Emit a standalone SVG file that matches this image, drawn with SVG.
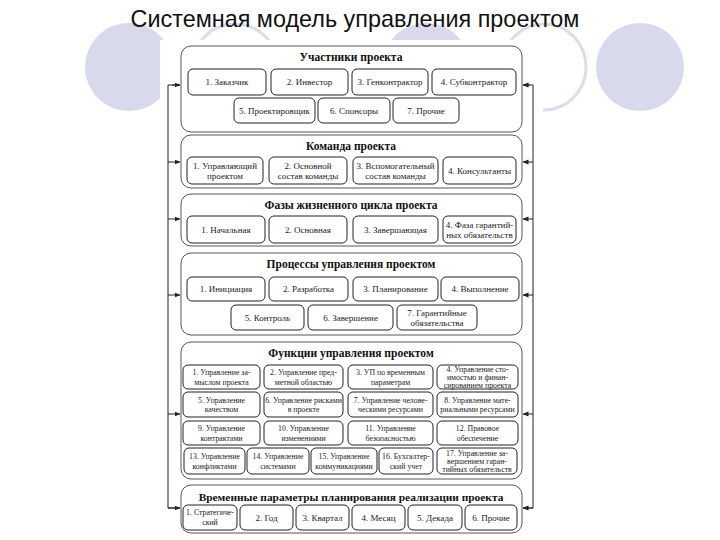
<svg xmlns="http://www.w3.org/2000/svg" width="720" height="540" viewBox="0 0 720 540">
<defs>
<marker id="ah" markerWidth="6" markerHeight="6" refX="5.5" refY="3" orient="auto" markerUnits="userSpaceOnUse">
<path d="M0,0.5 L6,3 L0,5.5 z" fill="#222"/>
</marker>
<style>
.bgc{fill:#d9d9ec}
.bgo{fill:none;stroke:#dcdcec;stroke-width:3}
.title{font-family:"Liberation Sans",Arial,sans-serif;font-size:23.4px;fill:#111;text-anchor:middle}
.grp{fill:#fff;stroke:#444;stroke-width:0.9}
.box{fill:#fff;stroke:#222;stroke-width:1}
.gt{font-family:"Liberation Serif","Times New Roman",serif;font-weight:bold;font-size:11.5px;fill:#111;text-anchor:middle}
.t{font-family:"Liberation Serif","Times New Roman",serif;font-size:9px;fill:#222;text-anchor:middle}
.s{font-family:"Liberation Serif","Times New Roman",serif;font-size:7.8px;fill:#222;text-anchor:middle}
.con{fill:none;stroke:#222;stroke-width:1}
</style>
</defs>
<rect width="720" height="540" fill="#fff"/>
<g id="background">
<ellipse class="bgc" cx="129" cy="67" rx="44" ry="44"/>
<ellipse class="bgo" cx="235" cy="67" rx="43" ry="43"/>
<ellipse class="bgc" cx="426" cy="67" rx="44" ry="44"/>
<ellipse class="bgo" cx="544" cy="67" rx="42" ry="43"/>
<ellipse class="bgc" cx="640" cy="67" rx="44" ry="44"/>
<rect x="160" y="40" width="383" height="500" fill="#fff"/>
</g>
<text class="title" x="355" y="27">Системная модель управления проектом</text>

<g id="connectors">
<path class="con" d="M180,85 H168 V508 H180"/>
<path class="con" d="M172,85 H180" marker-end="url(#ah)"/>
<path class="con" d="M168,162 H180" marker-end="url(#ah)"/>
<path class="con" d="M168,219 H180" marker-end="url(#ah)"/>
<path class="con" d="M168,295 H180" marker-end="url(#ah)"/>
<path class="con" d="M168,414 H180" marker-end="url(#ah)"/>
<path class="con" d="M168,508 H180" marker-end="url(#ah)"/>
<path class="con" d="M523,85 H533 V508 H523"/>
<path class="con" d="M530,85 H523" marker-end="url(#ah)"/>
<path class="con" d="M533,162 H523" marker-end="url(#ah)"/>
<path class="con" d="M533,219 H523" marker-end="url(#ah)"/>
<path class="con" d="M533,295 H523" marker-end="url(#ah)"/>
<path class="con" d="M533,414 H523" marker-end="url(#ah)"/>
<path class="con" d="M533,508 H523" marker-end="url(#ah)"/>
</g>

<g id="participants">
<rect class="grp" x="181" y="46" width="341" height="86" rx="10"/>
<text class="gt" x="351" y="61">Участники проекта</text>
<g id="p1"><rect class="box" x="188" y="69" width="78" height="26" rx="5"/><text class="t" x="227" y="85.3">1. Заказчик</text></g>
<g id="p2"><rect class="box" x="271" y="69" width="77" height="26" rx="5"/><text class="t" x="309.5" y="85.3">2. Инвестор</text></g>
<g id="p3"><rect class="box" x="352" y="69" width="76" height="26" rx="5"/><text class="t" x="390" y="85.3">3. Генконтрактор</text></g>
<g id="p4"><rect class="box" x="432" y="69" width="84" height="26" rx="5"/><text class="t" x="474" y="85.3">4. Субконтрактор</text></g>
<g id="p5"><rect class="box" x="234" y="98" width="81" height="25" rx="5"/><text class="t" x="274.5" y="113.8">5. Проектировщик</text></g>
<g id="p6"><rect class="box" x="318" y="98" width="72" height="25" rx="5"/><text class="t" x="354" y="113.8">6. Спонсоры</text></g>
<g id="p7"><rect class="box" x="393" y="98" width="66" height="25" rx="5"/><text class="t" x="426" y="113.8">7. Прочие</text></g>
</g>

<g id="team">
<rect class="grp" x="181" y="135" width="341" height="53" rx="10"/>
<text class="gt" x="351" y="150">Команда проекта</text>
<g id="t1"><rect class="box" x="187" y="157" width="76" height="27" rx="5"/><text class="t" x="225" y="168.7">1. Управляющий<tspan x="225" dy="10">проектом</tspan></text></g>
<g id="t2"><rect class="box" x="269" y="157" width="78" height="27" rx="5"/><text class="t" x="308" y="168.7">2. Основной<tspan x="308" dy="10">состав команды</tspan></text></g>
<g id="t3"><rect class="box" x="353" y="157" width="85" height="27" rx="5"/><text class="t" x="395.5" y="168.7">3. Вспомогательный<tspan x="395.5" dy="10">состав команды</tspan></text></g>
<g id="t4"><rect class="box" x="443" y="157" width="73" height="27" rx="5"/><text class="t" x="479.5" y="173.8">4. Консультанты</text></g>
</g>

<g id="phases">
<rect class="grp" x="181" y="194" width="341" height="52" rx="10"/>
<text class="gt" x="351" y="209">Фазы жизненного цикла проекта</text>
<g id="f1"><rect class="box" x="187" y="216" width="78" height="27" rx="5"/><text class="t" x="226" y="232.8">1. Начальная</text></g>
<g id="f2"><rect class="box" x="269" y="216" width="78" height="27" rx="5"/><text class="t" x="308" y="232.8">2. Основная</text></g>
<g id="f3"><rect class="box" x="353" y="216" width="85" height="27" rx="5"/><text class="t" x="395.5" y="232.8">3. Завершающая</text></g>
<g id="f4"><rect class="box" x="443" y="216" width="73" height="27" rx="5"/><text class="t" x="479.5" y="227.7">4. Фаза гарантий-<tspan x="479.5" dy="10">ных обязательств</tspan></text></g>
</g>

<g id="processes">
<rect class="grp" x="181" y="253" width="341" height="82" rx="10"/>
<text class="gt" x="351" y="268">Процессы управления проектом</text>
<g id="r1"><rect class="box" x="187" y="277" width="78" height="24" rx="5"/><text class="t" x="226" y="292.3">1. Инициация</text></g>
<g id="r2"><rect class="box" x="269" y="277" width="79" height="24" rx="5"/><text class="t" x="308.5" y="292.3">2. Разработка</text></g>
<g id="r3"><rect class="box" x="353" y="277" width="85" height="24" rx="5"/><text class="t" x="395.5" y="292.3">3. Планирование</text></g>
<g id="r4"><rect class="box" x="441" y="277" width="78" height="24" rx="5"/><text class="t" x="480" y="292.3">4. Выполнение</text></g>
<g id="r5"><rect class="box" x="231" y="305" width="73" height="25" rx="5"/><text class="t" x="267.5" y="320.8">5. Контроль</text></g>
<g id="r6"><rect class="box" x="308" y="305" width="85" height="25" rx="5"/><text class="t" x="350.5" y="320.8">6. Завершение</text></g>
<g id="r7"><rect class="box" x="397" y="305" width="80" height="25" rx="5"/><text class="t" x="437" y="315.7">7. Гарантийные<tspan x="437" dy="10">обязательства</tspan></text></g>
</g>

<g id="functions">
<rect class="grp" x="181" y="342" width="341" height="137" rx="10"/>
<text class="gt" x="351" y="357">Функции управления проектом</text>
<g id="u1"><rect class="box" x="183" y="365" width="77" height="24" rx="5"/><text class="s" x="221.5" y="375">1. Управление за-<tspan x="221.5" dy="9.5">мыслом проекта</tspan></text></g>
<g id="u2"><rect class="box" x="264" y="365" width="79" height="24" rx="5"/><text class="s" x="303.5" y="375">2. Управление пред-<tspan x="303.5" dy="9.5">метной областью</tspan></text></g>
<g id="u3"><rect class="box" x="348" y="365" width="85" height="24" rx="5"/><text class="s" x="390.5" y="375">3. УП по временным<tspan x="390.5" dy="9.5">параметрам</tspan></text></g>
<g id="u4"><rect class="box" x="437" y="365" width="81" height="24" rx="5"/><text class="s" x="477.5" y="372">4. Управление сто-<tspan x="477.5" dy="8">имостью и финан-</tspan><tspan x="477.5" dy="8">сированием проекта</tspan></text></g>
<g id="u5"><rect class="box" x="183" y="392" width="77" height="25" rx="5"/><text class="s" x="221.5" y="402.5">5. Управление<tspan x="221.5" dy="9.5">качеством</tspan></text></g>
<g id="u6"><rect class="box" x="264" y="392" width="79" height="25" rx="5"/><text class="s" x="303.5" y="402.5">6. Управление рисками<tspan x="303.5" dy="9.5">в проекте</tspan></text></g>
<g id="u7"><rect class="box" x="348" y="392" width="85" height="25" rx="5"/><text class="s" x="390.5" y="402.5">7. Управление челове-<tspan x="390.5" dy="9.5">ческими ресурсами</tspan></text></g>
<g id="u8"><rect class="box" x="437" y="392" width="81" height="25" rx="5"/><text class="s" x="477.5" y="402.5">8. Управление мате-<tspan x="477.5" dy="9.5">риальными ресурсами</tspan></text></g>
<g id="u9"><rect class="box" x="183" y="421" width="77" height="24" rx="5"/><text class="s" x="221.5" y="431">9. Управление<tspan x="221.5" dy="9.5">контрактами</tspan></text></g>
<g id="u10"><rect class="box" x="264" y="421" width="79" height="24" rx="5"/><text class="s" x="303.5" y="431">10. Управление<tspan x="303.5" dy="9.5">изменениями</tspan></text></g>
<g id="u11"><rect class="box" x="348" y="421" width="85" height="24" rx="5"/><text class="s" x="390.5" y="431">11. Управление<tspan x="390.5" dy="9.5">безопасностью</tspan></text></g>
<g id="u12"><rect class="box" x="437" y="421" width="81" height="24" rx="5"/><text class="s" x="477.5" y="431">12. Правовое<tspan x="477.5" dy="9.5">обеспечение</tspan></text></g>
<g id="u13"><rect class="box" x="184" y="448" width="61" height="26" rx="5"/><text class="s" x="214.5" y="459">13. Управление<tspan x="214.5" dy="9.5">конфликтами</tspan></text></g>
<g id="u14"><rect class="box" x="247" y="448" width="62" height="26" rx="5"/><text class="s" x="278" y="459">14. Управление<tspan x="278" dy="9.5">системами</tspan></text></g>
<g id="u15"><rect class="box" x="311" y="448" width="66" height="26" rx="5"/><text class="s" x="344" y="459">15. Управление<tspan x="344" dy="9.5">коммуникациями</tspan></text></g>
<g id="u16"><rect class="box" x="379" y="448" width="54" height="26" rx="5"/><text class="s" x="406" y="459">16. Бухгалтер-<tspan x="406" dy="9.5">ский учет</tspan></text></g>
<g id="u17"><rect class="box" x="437" y="448" width="80" height="26" rx="5"/><text class="s" x="477" y="456">17. Управление за-<tspan x="477" dy="8">вершением гаран-</tspan><tspan x="477" dy="8">тийных обязательств</tspan></text></g>
</g>

<g id="timing">
<rect class="grp" x="181" y="485" width="341" height="48" rx="10"/>
<text class="gt" x="351" y="501" style="font-size:11.4px">Временные параметры планирования реализации проекта</text>
<g id="v1"><rect class="box" x="183" y="505" width="54" height="25" rx="5"/><text class="s" x="210" y="515">1. Стратегиче-<tspan x="210" dy="9.5">ский</tspan></text></g>
<g id="v2"><rect class="box" x="240" y="505" width="53" height="25" rx="5"/><text class="t" x="266.5" y="520.8">2. Год</text></g>
<g id="v3"><rect class="box" x="296" y="505" width="53" height="25" rx="5"/><text class="t" x="322.5" y="520.8">3. Квартал</text></g>
<g id="v4"><rect class="box" x="352" y="505" width="53" height="25" rx="5"/><text class="t" x="378.5" y="520.8">4. Месяц</text></g>
<g id="v5"><rect class="box" x="408" y="505" width="54" height="25" rx="5"/><text class="t" x="435" y="520.8">5. Декада</text></g>
<g id="v6"><rect class="box" x="465" y="505" width="52" height="25" rx="5"/><text class="t" x="491" y="520.8">6. Прочие</text></g>
</g>
</svg>
